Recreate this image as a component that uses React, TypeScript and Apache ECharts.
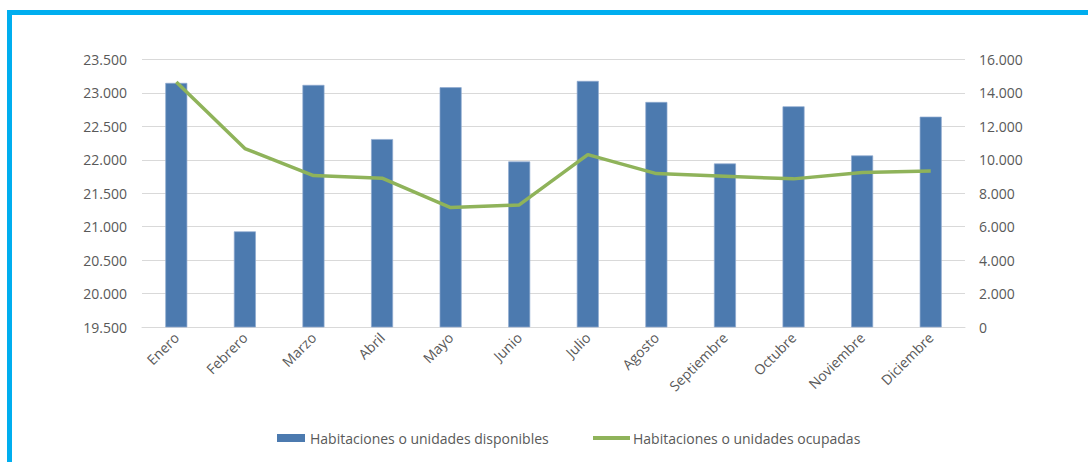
import React, { useEffect, useRef } from "react";
import * as echarts from "echarts";

const categories = ["Enero","Febrero","Marzo","Abril","Mayo","Junio","Julio","Agosto","Septiembre","Octubre","Noviembre","Diciembre"];
const disponibles = [23150, 20930, 23120, 22310, 23085, 21975, 23180, 22865, 21945, 22800, 22065, 22645];
const ocupadas = [14650, 10670, 9055, 8900, 7145, 7300, 10310, 9175, 9015, 8860, 9235, 9335];
const leftTicks = { min: 19500, max: 23500, interval: 500 };
const rightTicks = { min: 0, max: 16000, interval: 2000 };
const seriesNames = ["Habitaciones o unidades disponibles", "Habitaciones o unidades ocupadas"];

const fmt = (v: number) => {
  const s = Math.round(v).toString();
  return s.replace(/\B(?=(\d{3})+(?!\d))/g, ".");
};

const FONT = "'Open Sans', sans-serif";
const TXT = "#595959";
const FS = 14;

export default function App() {
  const ref = useRef<HTMLDivElement>(null);
  useEffect(() => {
    document.body.style.margin = "0";
    const chart = echarts.init(ref.current!, null, { renderer: "svg" });
    chart.setOption({
      animation: false,
      backgroundColor: "#ffffff",
      textStyle: { fontFamily: FONT },
      graphic: [
        { type: "rect", shape: { x: 7, y: 10, width: 1081, height: 5 }, style: { fill: "#00AEEF" }, silent: true },
        { type: "rect", shape: { x: 7, y: 10, width: 5, height: 452 }, style: { fill: "#00AEEF" }, silent: true },
      ],
      grid: { left: 142, right: 123, top: 59.5, bottom: 135, containLabel: false },
      legend: [
        {
          data: [{ name: seriesNames[0], icon: "rect", itemStyle: { color: "#4C7AAF", borderWidth: 0 } }],
          left: 272, top: 426,
          itemWidth: 28, itemHeight: 8, itemGap: 5,
          textStyle: { color: TXT, fontSize: FS, fontFamily: FONT },
        },
        {
          data: [{ name: seriesNames[1], icon: "rect", itemStyle: { color: "#8FB35A", borderWidth: 0 } }],
          left: 588, top: 426,
          itemWidth: 37, itemHeight: 4,
          textStyle: { color: TXT, fontSize: FS, fontFamily: FONT, padding: [0, 0, 0, -2] },
        },
      ],
      xAxis: {
        type: "category",
        data: categories,
        axisLine: { show: true, lineStyle: { color: "#D9D9D9", width: 1 } },
        axisTick: { show: false },
        axisLabel: { rotate: 45, color: TXT, fontSize: FS, fontFamily: FONT, margin: 8, interval: 0 },
      },
      yAxis: [
        {
          type: "value",
          ...leftTicks,
          axisLine: { show: false },
          axisTick: { show: false },
          splitLine: { lineStyle: { color: "#D9D9D9", width: 1 } },
          axisLabel: { color: TXT, fontSize: FS, fontFamily: FONT, margin: 15, formatter: fmt },
        },
        {
          type: "value",
          ...rightTicks,
          axisLine: { show: false },
          axisTick: { show: false },
          splitLine: { show: false },
          axisLabel: { color: TXT, fontSize: FS, fontFamily: FONT, margin: 14, formatter: fmt },
        },
      ],
      series: [
        {
          name: seriesNames[0],
          type: "bar",
          data: disponibles,
          yAxisIndex: 0,
          barWidth: 22,
          itemStyle: { color: "#4C7AAF", borderColor: "#8FAAD0", borderWidth: 0.7 },
        },
        {
          name: seriesNames[1],
          type: "line",
          data: ocupadas,
          yAxisIndex: 1,
          symbol: "none",
          lineStyle: { color: "#8FB35A", width: 3.5 },
          itemStyle: { color: "#8FB35A" },
        },
      ],
    });
    return () => chart.dispose();
  }, []);
  return <div ref={ref} style={{ width: 1088, height: 462 }} />;
}
